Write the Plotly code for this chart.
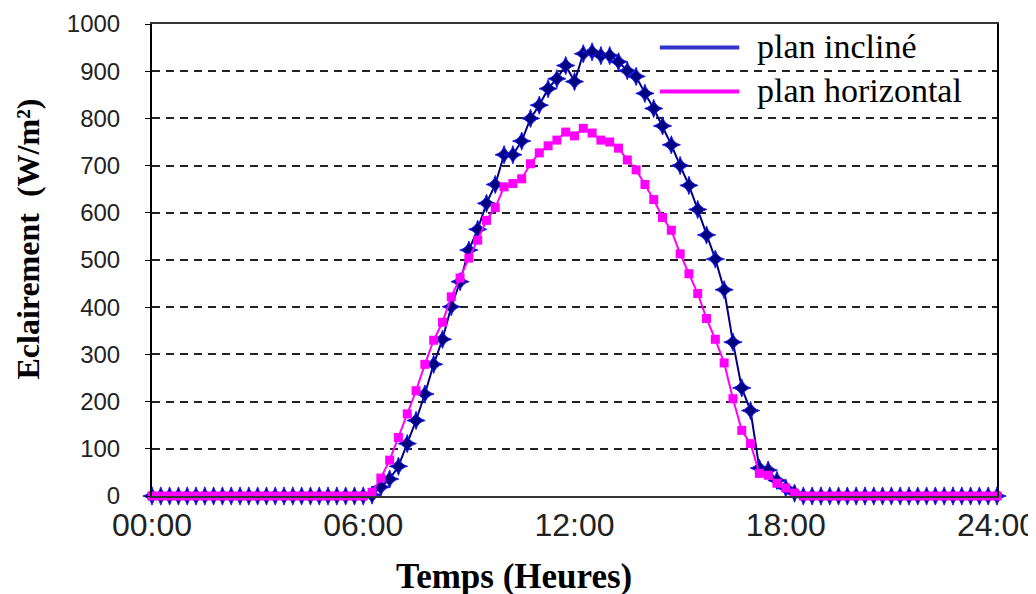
import plotly.graph_objects as go

# Time grid: every 15 minutes from 00:00 to 24:00 (hours)
hours = [i * 0.25 for i in range(97)]

tick_hours = [0, 6, 12, 18, 24]
tick_labels = ["00:00", "06:00", "12:00", "18:00", "24:00"]

# plan incliné (W/m²), 00:00 .. 24:00
incline = [
    0, 0, 0, 0, 0, 0, 0, 0, 0, 0, 0, 0, 0, 0, 0, 0, 0, 0, 0, 0, 0, 0, 0, 0, 0,  # 00:00-06:00
    2, 19, 36, 63, 111, 160, 216, 279, 332, 401, 454, 521, 565, 620, 660,
    723, 723, 752, 800, 828, 863, 884, 912, 878, 937, 941, 933, 933, 920, 901,
    889, 853, 821, 784, 744, 700, 658, 607, 553, 502, 437, 326, 229, 181, 59,
    55, 33, 17, 6,
    0, 0, 0, 0, 0, 0, 0, 0, 0, 0, 0, 0, 0, 0, 0, 0, 0, 0, 0, 0, 0, 0, 0, 0,  # 18:30-24:00
]

# plan horizontal (W/m²), 00:00 .. 24:00
horizontal = [
    0, 0, 0, 0, 0, 0, 0, 0, 0, 0, 0, 0, 0, 0, 0, 0, 0, 0, 0, 0, 0, 0, 0, 0, 0,
    8, 38, 76, 124, 174, 223, 279, 330, 368, 422, 462, 504, 542, 584, 611,
    655, 662, 672, 704, 727, 742, 754, 771, 763, 779, 769, 754, 750, 737, 712,
    691, 660, 628, 590, 563, 513, 471, 429, 376, 332, 282, 206, 139, 111, 48,
    44, 27, 17, 6,
    0, 0, 0, 0, 0, 0, 0, 0, 0, 0, 0, 0, 0, 0, 0, 0, 0, 0, 0, 0, 0, 0, 0, 0,
]

series_names = ["plan incliné", "plan horizontal"]
y_ticks = list(range(0, 1001, 100))

fig = go.Figure()
fig.add_trace(go.Scatter(
    x=hours, y=incline, name=series_names[0], mode="lines+markers",
    line=dict(color="#000080", width=2),
    marker=dict(symbol="star-diamond", size=13, color="#000080",
                line=dict(color="#1a1aff", width=1)),
    cliponaxis=False, showlegend=False,
))
fig.add_trace(go.Scatter(
    x=hours, y=horizontal, name=series_names[1], mode="lines+markers",
    line=dict(color="#ff00ff", width=2),
    marker=dict(symbol="square", size=9, color="#ff00ff"),
    cliponaxis=False, showlegend=False,
))

# Manual legend (line keys only, as in the reference)
legend_items = [(series_names[0], "#3333cc", 0.950), (series_names[1], "#ff00ff", 0.857)]
for name, col, yy in legend_items:
    fig.add_shape(type="line", xref="paper", yref="paper",
                  x0=0.601, x1=0.695, y0=yy, y1=yy,
                  line=dict(color=col, width=4))
    fig.add_annotation(xref="paper", yref="paper", x=0.714, y=yy + 0.002,
                       text=name, showarrow=False, xanchor="left", yanchor="middle",
                       font=dict(family="Liberation Serif", size=34, color="black"))

# Axis titles
fig.add_annotation(xref="paper", yref="paper", x=-0.147, y=0.545,
                   text="<b>Eclairement  (W/m²)</b>", textangle=-90, showarrow=False,
                   xanchor="center", yanchor="middle",
                   font=dict(family="Liberation Serif", size=32, color="black"))
fig.add_annotation(xref="paper", yref="paper", x=0.428, y=-0.171,
                   text="<b>Temps (Heures)</b>", showarrow=False,
                   xanchor="center", yanchor="middle",
                   font=dict(family="Liberation Serif", size=35, color="black"))

# page body has an 8px margin: compensate so the plot area sits at x 152-997, y ~23-496
fig.update_layout(
    width=1036, height=594,
    margin=dict(l=144, r=47, t=16, b=106),
    paper_bgcolor="white", plot_bgcolor="white",
    showlegend=False,
)
fig.update_xaxes(
    range=[0, 24], tickvals=tick_hours, ticktext=tick_labels,
    showgrid=False, zeroline=False,
    showline=True, linecolor="#333333", linewidth=2, mirror=True,
    ticks="", ticklabelstandoff=0, ticklabeloverflow="allow",
    tickfont=dict(family="Liberation Sans", size=32, color="#222"),
    automargin=False,
)
fig.update_yaxes(
    range=[0, 1000], tickvals=y_ticks,
    showgrid=True, gridcolor="#222222", gridwidth=2, griddash="8px,6px",
    zeroline=False,
    showline=True, linecolor="black", linewidth=2, mirror=True,
    ticks="outside", ticklen=5, tickcolor="black", ticklabelstandoff=20,
    ticklabeloverflow="allow",
    tickfont=dict(family="Liberation Sans", size=24, color="#222"),
    automargin=False,
)

fig.write_html("out.html")
